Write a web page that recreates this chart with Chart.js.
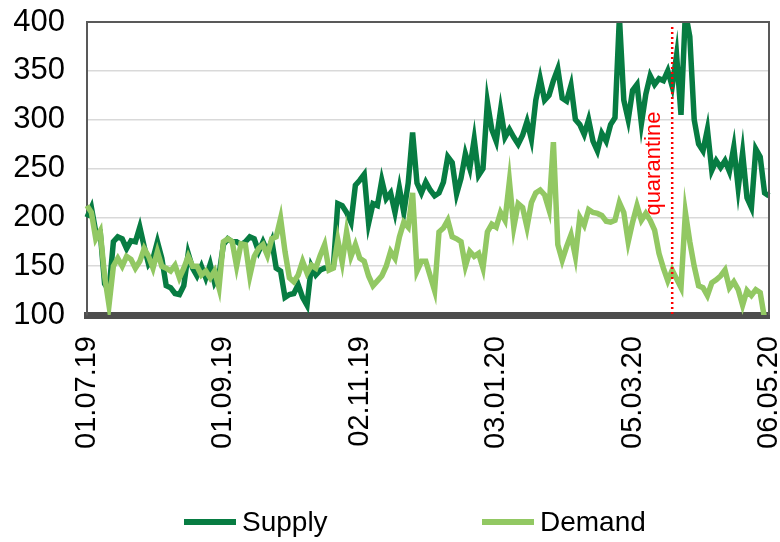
<!DOCTYPE html>
<html>
<head>
<meta charset="utf-8">
<script src="https://cdn.jsdelivr.net/npm/chart.js@4.4.0/dist/chart.umd.min.js"></script>
<style>
  body { margin: 0; background: #fff; }
  #wrap { position: relative; width: 780px; height: 542px; }
  .leg { position: absolute; top: 505px; font: 28px "Liberation Sans", Arial, sans-serif; color: #000; line-height: 34px; }
  .leg span { display: inline-block; width: 52px; height: 6px; vertical-align: middle; margin-right: 6px; position: relative; top: -2px; }
</style>
</head>
<body>
<div id="wrap">
  <canvas id="myChart" width="780" height="542"></canvas>
  <div class="leg" style="left:184px"><span style="background:#077c42"></span>Supply</div>
  <div class="leg" style="left:482px"><span style="background:#92c863"></span>Demand</div>
</div>
<script>
// one point every 2 days, 01.07.19 .. 06.05.20
var startDate = new Date(2019, 6, 1);
var stepDays = 2;
var tickLabels = ['01.07.19', '01.09.19', '02.11.19', '03.01.20', '05.03.20', '06.05.20'];
var quarantineDate = '23.03.20';

var supply = [200,210,185,185,132,125,175,180,178,168,176,175,190,170,152,158,175,158,130,128,
  122,121,130,163,148,140,150,138,152,133,141,172,178,175,175,172,175,180,178,165,
  175,165,176,148,145,118,121,122,131,118,110,150,141,146,148,148,150,214,212,205,
  195,233,238,244,194,214,212,238,219,225,205,230,205,235,287,235,225,236,228,222,
  225,236,262,256,224,240,265,250,280,243,250,318,290,278,310,282,290,282,275,284,
  298,280,320,342,320,325,340,352,322,319,335,300,295,285,300,278,268,286,278,295,
  302,405,320,300,330,336,296,326,345,336,342,340,350,334,366,305,410,385,300,275,
  268,290,248,258,251,258,247,272,230,266,220,210,270,262,225,222];

var demand = [212,205,178,186,140,110,150,158,150,160,157,148,155,168,160,148,165,150,148,145,
  151,138,148,160,150,150,141,145,138,145,128,175,178,175,150,173,172,140,160,168,
  172,161,178,180,199,165,138,134,141,155,143,151,148,161,172,146,148,177,154,185,
  160,172,158,155,140,130,135,140,150,165,158,180,195,190,225,145,155,155,140,125,
  185,189,197,180,178,175,150,165,160,163,148,185,193,190,205,197,237,190,214,210,
  190,215,225,228,223,208,277,172,156,170,182,160,200,192,208,205,204,202,196,195,
  197,215,205,175,195,212,197,204,197,187,163,148,135,146,137,128,205,175,150,130,
  128,120,133,136,140,146,128,134,126,110,125,120,126,123,96,92];

function fmt(d) {
  var dd = ('0' + d.getDate()).slice(-2);
  var mm = ('0' + (d.getMonth() + 1)).slice(-2);
  return dd + '.' + mm + '.' + String(d.getFullYear()).slice(-2);
}
var labels = supply.map(function (v, i) {
  var d = new Date(startDate);
  d.setDate(d.getDate() + i * stepDays);
  return fmt(d);
});

var frame = {
  id: 'frame',
  afterDatasetsDraw: function (chart) {
    var a = chart.chartArea, ctx = chart.ctx;
    ctx.save();
    ctx.strokeStyle = '#595959';
    ctx.lineWidth = 2;
    ctx.beginPath();
    ctx.moveTo(a.left, a.top);
    ctx.lineTo(a.right, a.top);
    ctx.lineTo(a.right, a.bottom);
    ctx.stroke();
    ctx.restore();
  }
};

var quarantine = {
  id: 'quarantine',
  afterDatasetsDraw: function (chart) {
    var ctx = chart.ctx;
    var x = chart.scales.x.getPixelForValue(labels.indexOf(quarantineDate));
    var y = chart.scales.y;
    ctx.save();
    ctx.strokeStyle = '#ff0000';
    ctx.lineWidth = 2.5;
    ctx.setLineDash([2, 3]);
    ctx.beginPath();
    ctx.moveTo(x, y.getPixelForValue(395));
    ctx.lineTo(x, y.getPixelForValue(100));
    ctx.stroke();
    ctx.setLineDash([]);
    ctx.translate(x - 18, y.getPixelForValue(255));
    ctx.rotate(-Math.PI / 2);
    ctx.fillStyle = '#ff0000';
    ctx.font = '22px "Liberation Sans", Arial, sans-serif';
    ctx.textAlign = 'center';
    ctx.textBaseline = 'middle';
    ctx.fillText('quarantine', 0, 0);
    ctx.restore();
  }
};

var ctx = document.getElementById('myChart').getContext('2d');
var myChart = new Chart(ctx, {
  type: 'line',
  data: {
    labels: labels,
    datasets: [{
      label: 'Supply',
      data: supply,
      borderColor: '#077c42',
      backgroundColor: '#077c42',
      borderWidth: 5.5,
      pointRadius: 0,
      order: 2
    },
    {
      label: 'Demand',
      data: demand,
      borderColor: '#92c863',
      backgroundColor: '#92c863',
      borderWidth: 5.5,
      pointRadius: 0,
      order: 1
    }]
  },
  options: {
    responsive: false,
    animation: false,
    layout: { padding: { left: 0, right: 11, top: 22, bottom: 0 } },
    plugins: {
      legend: { display: false },
      tooltip: { enabled: false }
    },
    scales: {
      x: {
        grid: { display: false },
        border: { color: '#4d4d4d', width: 7 },
        ticks: {
          autoSkip: false,
          minRotation: 90,
          maxRotation: 90,
          padding: 13,
          color: '#000',
          font: { family: '"Liberation Sans", Arial, sans-serif', size: 29 },
          callback: function (v, i) {
            return tickLabels.indexOf(labels[i]) >= 0 ? labels[i] : '';
          }
        },
        afterFit: function (scale) {
          scale.height = 227;
          scale.paddingLeft = 0;
          scale.paddingRight = 0;
        }
      },
      y: {
        min: 100,
        max: 400,
        grid: { color: '#d9d9d9', lineWidth: 1.5, drawTicks: false },
        border: { color: '#595959', width: 2 },
        ticks: {
          stepSize: 50,
          padding: 22,
          color: '#000',
          font: { family: '"Liberation Sans", Arial, sans-serif', size: 31 }
        },
        afterFit: function (scale) {
          scale.width = 87;
          scale.paddingTop = 0;
          scale.paddingBottom = 0;
        }
      }
    }
  },
  plugins: [frame, quarantine]
});
</script>
</body>
</html>
